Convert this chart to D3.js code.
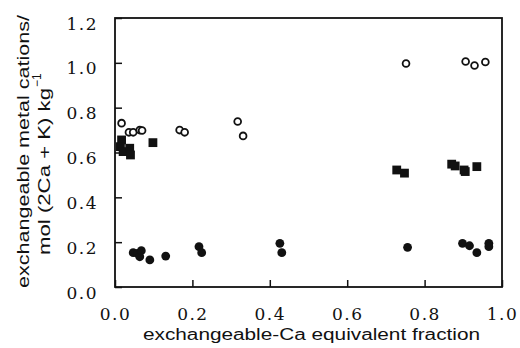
<!DOCTYPE html>
<html>
<head>
<meta charset="UTF-8">
<style>
    body { margin: 0; background: #fff; }
</style>
</head>
<body>
<div id="chart"></div>
<script src="https://cdn.jsdelivr.net/npm/d3@7"></script>
<script>
    // open circles
    var openX = [0.017, 0.036, 0.047, 0.064, 0.070, 0.167, 0.180, 0.317, 0.331, 0.752, 0.906, 0.929, 0.957];
    var openY = [0.731, 0.690, 0.690, 0.700, 0.698, 0.700, 0.690, 0.738, 0.674, 0.997, 1.006, 0.988, 1.004];
    // filled squares
    var squareX = [0.017, 0.014, 0.021, 0.038, 0.040, 0.098, 0.728, 0.748, 0.870, 0.879, 0.902, 0.905, 0.935];
    var squareY = [0.656, 0.626, 0.604, 0.619, 0.589, 0.644, 0.522, 0.508, 0.548, 0.540, 0.522, 0.515, 0.537];
    // filled circles
    var dotX = [0.047, 0.058, 0.064, 0.068, 0.090, 0.131, 0.217, 0.224, 0.426, 0.431, 0.756, 0.898, 0.916, 0.935, 0.966, 0.966];
    var dotY = [0.153, 0.150, 0.135, 0.162, 0.121, 0.138, 0.180, 0.153, 0.195, 0.153, 0.177, 0.195, 0.184, 0.153, 0.195, 0.180];

    var xTicks = [0, 0.2, 0.4, 0.6, 0.8, 1.0];
    var yTicks = [0, 0.2, 0.4, 0.6, 0.8, 1.0, 1.2];

    var serif = '"DejaVu Serif", "Liberation Serif", "Noto Serif", serif';
    var sans = '"Liberation Sans", Arial, sans-serif';

    var width = 520, height = 348;
    var margin = {top: 18, right: 18, bottom: 61, left: 115};
    var w = width - margin.left - margin.right,
        h = height - margin.top - margin.bottom;

    var svg = d3.select("#chart").append("svg")
        .attr("width", width)
        .attr("height", height);

    var g = svg.append("g")
        .attr("transform", "translate(" + margin.left + "," + margin.top + ")");

    var x = d3.scaleLinear().domain([0, 1]).range([0, w]);
    var y = d3.scaleLinear().domain([0, 1.2]).range([h, 0]);

    // frame
    g.append("rect")
        .attr("width", w)
        .attr("height", h)
        .attr("fill", "none")
        .attr("stroke", "#111")
        .attr("stroke-width", 1.8);

    var xAxis = g.append("g")
        .attr("transform", "translate(0," + h + ")")
        .call(d3.axisBottom(x).tickValues(xTicks).tickFormat(d3.format(".1f"))
            .tickSizeInner(-7).tickSizeOuter(0).tickPadding(17));
    var yAxis = g.append("g")
        .call(d3.axisLeft(y).tickValues(yTicks).tickFormat(d3.format(".1f"))
            .tickSizeInner(-7).tickSizeOuter(0).tickPadding(17));

    [xAxis, yAxis].forEach(function (a) {
        a.attr("font-family", serif).attr("font-size", 17);
        a.select(".domain").remove();
        a.selectAll(".tick line").attr("stroke", "#111").attr("stroke-width", 1.5);
        a.selectAll(".tick text")
            .style("font-family", serif)
            .style("font-size", "17px")
            .style("letter-spacing", "1.5px")
            .attr("fill", "#111");
    });
    xAxis.selectAll(".tick text").attr("dy", 0).attr("y", 33);
    yAxis.selectAll(".tick text").attr("dy", 0).attr("y", 11);

    // points
    g.selectAll(".dot").data(d3.range(dotX.length)).enter()
        .append("circle")
        .attr("cx", function (i) { return x(dotX[i]); })
        .attr("cy", function (i) { return y(dotY[i]); })
        .attr("r", 4.4)
        .attr("fill", "#111");

    g.selectAll(".sq").data(d3.range(squareX.length)).enter()
        .append("rect")
        .attr("x", function (i) { return x(squareX[i]) - 4.4; })
        .attr("y", function (i) { return y(squareY[i]) - 4.4; })
        .attr("width", 8.8)
        .attr("height", 8.8)
        .attr("fill", "#111");

    g.selectAll(".open").data(d3.range(openX.length)).enter()
        .append("circle")
        .attr("cx", function (i) { return x(openX[i]); })
        .attr("cy", function (i) { return y(openY[i]); })
        .attr("r", 3.4)
        .attr("fill", "#fff")
        .attr("stroke", "#111")
        .attr("stroke-width", 1.8);

    // axis titles
    svg.append("text")
        .attr("x", 311.5)
        .attr("y", 340)
        .attr("text-anchor", "middle")
        .attr("textLength", 337)
        .attr("lengthAdjust", "spacingAndGlyphs")
        .style("font-family", sans)
        .style("font-size", "16px")
        .attr("fill", "#111")
        .text("exchangeable-Ca equivalent fraction");

    svg.append("text")
        .attr("transform", "translate(29,151.5) rotate(-90)")
        .attr("text-anchor", "middle")
        .attr("textLength", 273)
        .attr("lengthAdjust", "spacingAndGlyphs")
        .style("font-family", sans)
        .style("font-size", "17px")
        .attr("fill", "#111")
        .text("exchangeable metal cations/");

    var yt2 = svg.append("g")
        .attr("transform", "translate(50,255) rotate(-90)");
    yt2.append("text")
        .attr("x", 0)
        .attr("y", 0)
        .attr("textLength", 167)
        .attr("lengthAdjust", "spacingAndGlyphs")
        .style("font-family", sans)
        .style("font-size", "17px")
        .attr("fill", "#111")
        .text("mol (2Ca + K) kg");
    yt2.append("text")
        .attr("x", 168)
        .attr("y", -9)
        .style("font-family", sans)
        .style("font-size", "12px")
        .attr("fill", "#111")
        .text("\u22121");
</script>
</body>
</html>
